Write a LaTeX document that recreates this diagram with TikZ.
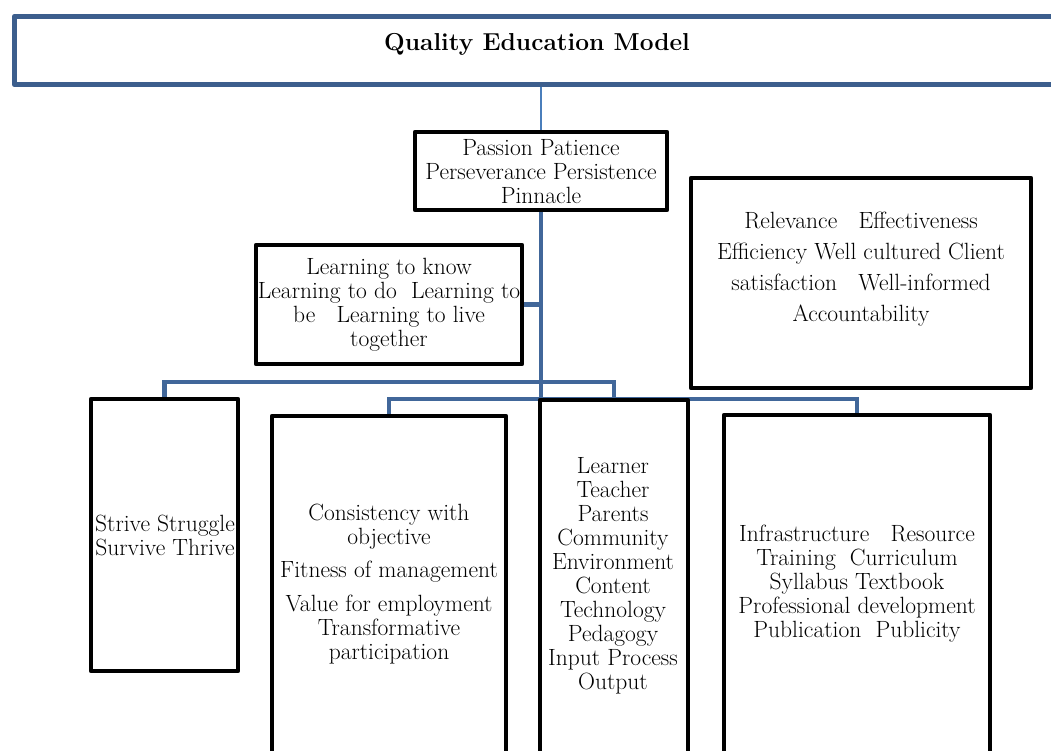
\documentclass[tikz,border=0pt]{standalone}
\usetikzlibrary{calc}
\definecolor{titleblue}{HTML}{3C5E8D}
\definecolor{busblue}{HTML}{41679A}
\definecolor{thinblue}{HTML}{4A7EBB}
\pgfdeclarelayer{bg}
\pgfsetlayers{bg,main}
\begin{document}
\begin{tikzpicture}[x=1pt,y=-1pt,
  box/.style={draw=black,line width=4.5pt,fill=white,rectangle,inner sep=0pt,line join=round},
  txt/.style={align=center,inner sep=0pt,font=\fontsize{23.5}{24}\selectfont},
  bus/.style={draw=busblue,line width=4.5pt,line join=miter},
  thin/.style={draw=thinblue,line width=1.5pt}]
\clip (0,0) rectangle (1051,751);
% boxes
\node[box,draw=titleblue,line width=5.5pt,minimum width=1055pt,minimum height=68pt] (title) at (542,50.5) {};
\node[box,minimum width=252pt,minimum height=78pt] (pass) at (541,171) {};
\node[box,minimum width=266pt,minimum height=119pt] (learn) at (389,304.5) {};
\node[box,minimum width=340pt,minimum height=210pt] (rel) at (861,283) {};
\node[box,minimum width=147pt,minimum height=272pt] (strive) at (164.5,535) {};
\node[box,minimum width=234pt,minimum height=384pt] (cons) at (389,608) {};
\node[box,minimum width=148pt,minimum height=400pt] (lrn) at (614,600) {};
\node[box,minimum width=266pt,minimum height=385pt] (infra) at (857,607.5) {};
\coordinate (j1) at (541,382);
\coordinate (j2) at (541,399);
% connectors
\begin{pgfonlayer}{bg}
\fill[white] (0,0) rectangle (1051,751);
\draw[thin] (pass.north |- title.south) -- (pass.north);
\draw[bus] (pass.south) -- (j2);
\draw[bus] (learn.east) -- (learn.east -| j1);
\draw[bus] (strive.north) -- (strive.north |- j1) -- (lrn.north |- j1) -- (lrn.north);
\draw[bus] (cons.north) -- (cons.north |- j2) -- (infra.north |- j2) -- (infra.north);
\end{pgfonlayer}
% texts
\node[txt,font=\fontsize{24.5}{28}\selectfont\bfseries] (ttitle) at (537,44) {Quality Education Model};
\node[txt] (tpass) at (541,172) {Passion Patience\\Perseverance Persistence\\Pinnacle};
\node[txt] (tlearn) at (389,305) {Learning to know\\Learning to do\ \ Learning to\\be\ \ \ Learning to live\\together};
\node[txt,font=\fontsize{23.5}{31}\selectfont] (trel) at (861,269) {Relevance\ \ \ Effectiveness\\Efficiency Well cultured Client\\satisfaction\ \ \ Well-informed\\Accountability};
\node[txt] (tstrive) at (165,535) {Strive Struggle\\Survive Thrive};
\node[txt] (tcons) at (389,584) {Consistency with\\objective\\[9pt]Fitness of management\\[10pt]Value for employment\\Transformative\\participation};
\node[txt] (tlrn) at (613,576) {Learner\\Teacher\\Parents\\Community\\Environment\\Content\\Technology\\Pedagogy\\Input Process\\Output};
\node[txt] (tinfra) at (857,584) {Infrastructure\ \ \ Resource\\Training\ \ Curriculum\\Syllabus Textbook\\Professional development\\Publication\ \ Publicity};
\end{tikzpicture}
\end{document}
